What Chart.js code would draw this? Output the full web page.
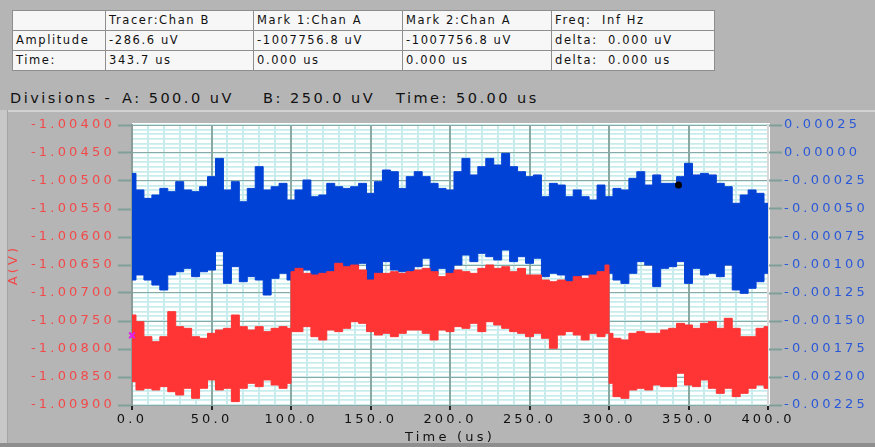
<!DOCTYPE html>
<html><head><meta charset="utf-8">
<script src="https://cdn.jsdelivr.net/npm/chart.js@4.4.1/dist/chart.umd.min.js"></script>
<style>
html,body{margin:0;padding:0}
body{width:875px;height:447px;background:#b5b5b5;position:relative;overflow:hidden;font-family:"DejaVu Sans",sans-serif;}
#info{position:absolute;left:12px;top:10px;border-collapse:collapse;table-layout:fixed;font-size:11.5px;letter-spacing:1.6px;color:#111;}
#info td{border:1px solid #8e8e8e;background:#f7f7f7;height:19px;padding:0 0 0 3px;white-space:pre;overflow:hidden;line-height:19px;}
#divs{position:absolute;left:0;top:90px;height:18px;width:875px;font-size:14.5px;letter-spacing:2.5px;color:#111;white-space:pre;}
#divs span{position:absolute;top:0}
#panel{position:absolute;left:0;top:110px;width:875px;height:337px;}
#tline{position:absolute;left:0;top:110px;width:875px;height:2px;background:#d2d2d2;z-index:3}
#lstrip{position:absolute;left:0;top:110px;width:7px;height:337px;background:#c8c8c8;border-right:1px solid #a4a4a4;z-index:3}
#bline{position:absolute;left:0;top:443px;width:875px;height:4px;background:#8e8e8e;z-index:3}
</style></head>
<body>
<table id="info">
<colgroup><col style="width:93px"><col style="width:148px"><col style="width:149px"><col style="width:149px"><col style="width:163px"></colgroup>
<tr><td></td><td>Tracer:Chan B</td><td>Mark 1:Chan A</td><td>Mark 2:Chan A</td><td>Freq:  Inf Hz</td></tr>
<tr><td>Amplitude</td><td>-286.6 uV</td><td>-1007756.8 uV</td><td>-1007756.8 uV</td><td>delta:  0.000 uV</td></tr>
<tr><td>Time:</td><td>343.7 us</td><td>0.000 us</td><td>0.000 us</td><td>delta:  0.000 us</td></tr>
</table>
<div id="divs"><span style="left:10px">Divisions -</span><span style="left:122px">A: 500.0 uV</span><span style="left:263px">B: 250.0 uV</span><span style="left:396px">Time: 50.00 us</span></div>
<div id="panel"><canvas id="c" width="875" height="337"></canvas></div>
<div id="tline"></div><div id="lstrip"></div><div id="bline"></div>
<script>
// ---- data ----
const blueTimes = [0,5,10,15,20,25,30,35,40,45,50,55,60,65,70,75,80,85,90,95,100,105,110,115,120,125,130,135,140,145,150,155,160,165,170,175,180,185,190,195,200,205,210,215,220,225,230,235,240,245,250,255,260,265,270,275,280,285,290,295,300,305,310,315,320,325,330,335,340,345,350,355,360,365,370,375,380,385,390,395,400];
// Chan B envelope, uV (right axis)
const blueUpperUV = [-182,-330,-405,-375,-316,-345,-256,-330,-345,-301,-211,-48,-330,-256,-435,-316,-122,-330,-301,-271,-420,
  -330,-241,-390,-375,-271,-301,-316,-301,-271,-360,-256,-152,-167,-316,-211,-167,-211,-271,-316,-330,
  -167,-48,-196,-122,-48,-107,-3,-122,-167,-211,-196,-390,-271,-286,-390,-330,-390,-420,-286,-390,
  -316,-330,-226,-167,-286,-196,-271,-271,-211,-92,-196,-182,-196,-271,-301,-449,-375,-330,-360,-449];
const blueLowerUV = [-1134,-1089,-1134,-1179,-1223,-1089,-1060,-1030,-1104,-1060,-1045,-881,-1164,-1015,-1149,-1104,-1134,-1268,-1119,-1074,-1134,
  -1074,-1045,-1104,-1074,-1060,-985,-1060,-1030,-985,-1134,-1074,-970,-1045,-1060,-1074,-1015,-940,-1074,-1030,-1074,
  -1000,-911,-970,-896,-926,-955,-866,-970,-926,-985,-940,-1104,-1074,-1089,-1179,-1134,-1089,-1104,-1060,-1074,
  -1134,-1164,-1074,-970,-1000,-1193,-1030,-1015,-970,-1164,-1030,-1089,-1074,-1104,-1000,-1223,-1253,-1208,-1149,-1074];
const redTimes = [0,5,10,15,20,25,30,35,40,45,50,55,60,65,70,75,80,85,90,95,100,
  100,105,110,115,120,125,130,135,140,145,150,155,160,165,170,175,180,185,190,195,200,205,210,215,220,225,230,235,240,245,250,255,260,265,270,275,280,285,290,295,300,
  300,305,310,315,320,325,330,335,340,345,350,355,360,365,370,375,380,385,390,395,400];
// Chan A envelope, uV (left axis)
const redUpperUV = [-1007393,-1007512,-1007780,-1007869,-1007780,-1007333,-1007601,-1007631,-1007780,-1007809,-1007720,-1007661,-1007631,-1007393,-1007601,-1007661,-1007601,-1007690,-1007631,-1007601,-1007631,
  -1006619,-1006560,-1006649,-1006679,-1006649,-1006619,-1006470,-1006530,-1006500,-1006589,-1006768,-1006649,-1006649,-1006619,-1006649,-1006619,-1006589,-1006560,-1006619,-1006708,-1006649,
  -1006589,-1006619,-1006649,-1006560,-1006500,-1006560,-1006530,-1006619,-1006560,-1006679,-1006679,-1006768,-1006798,-1006768,-1006798,-1006708,-1006738,-1006679,-1006619,-1006500,
  -1007720,-1007809,-1007839,-1007720,-1007690,-1007720,-1007720,-1007661,-1007631,-1007542,-1007571,-1007631,-1007542,-1007512,-1007631,-1007452,-1007631,-1007780,-1007780,-1007631,-1007601];
const redLowerUV = [-1008583,-1008732,-1008702,-1008732,-1008672,-1008762,-1008821,-1008702,-1008881,-1008702,-1008553,-1008732,-1008702,-1008940,-1008702,-1008613,-1008672,-1008553,-1008643,-1008702,-1008613,
  -1007690,-1007690,-1007601,-1007780,-1007839,-1007661,-1007690,-1007631,-1007512,-1007542,-1007690,-1007750,-1007720,-1007780,-1007720,-1007661,-1007661,-1007720,-1007839,-1007661,-1007690,
  -1007601,-1007631,-1007542,-1007690,-1007512,-1007571,-1007631,-1007690,-1007720,-1007780,-1007720,-1007809,-1007988,-1007750,-1007690,-1007750,-1007839,-1007720,-1007780,-1007720,
  -1008613,-1008851,-1008881,-1008732,-1008702,-1008732,-1008643,-1008672,-1008672,-1008434,-1008643,-1008672,-1008553,-1008702,-1008792,-1008702,-1008851,-1008792,-1008702,-1008643,-1008702];
const markTimes = [0];
const markAmpUV = [-1007756.8];
const tracerTimes = [343.7];
const tracerAmpUV = [-286.6];
const xTickValues = [0,50,100,150,200,250,300,350,400];
const leftTickValues = [-1.009,-1.0085,-1.008,-1.0075,-1.007,-1.0065,-1.006,-1.0055,-1.005,-1.0045,-1.004];
const rightTickValues = [-0.00225,-0.002,-0.00175,-0.0015,-0.00125,-0.001,-0.00075,-0.0005,-0.00025,0,0.00025];

const UV = 1e-6;
const pts = (ts, vs) => ts.map((t, i) => ({x: t, y: vs[i] * UV}));
const F = '"DejaVu Sans", sans-serif';
const RED = '#ff3434', BLUE = '#0042d6';
const MAJOR = '#8aa9a2', MINOR = '#c8ecec';
const fmt5 = v => (Math.abs(v) < 1e-12 ? 0 : v).toFixed(5);

const bgPlugin = {
  id: 'bg',
  beforeDraw(chart) {
    const {ctx, chartArea: a} = chart;
    ctx.save();
    ctx.fillStyle = '#ffffff';
    ctx.fillRect(a.left, a.top - 2, a.right - a.left + 2, a.bottom - a.top + 2);
    ctx.restore();
    ctx.letterSpacing = '3.2px';
  }
};

const band = (times, vals, axis, color, fill) => ({
  data: pts(times, vals), yAxisID: axis, fill: fill ? '+1' : false,
  backgroundColor: color, borderColor: color, borderWidth: 1, pointRadius: 0, stepped: 'middle'
});

new Chart(document.getElementById('c'), {
  type: 'line',
  data: {
    datasets: [
      {data: pts(tracerTimes, tracerAmpUV), yAxisID: 'yB', showLine: false, pointRadius: 3.5, pointStyle: 'circle',
       backgroundColor: '#000', borderColor: '#000', borderWidth: 0},
      {data: pts(markTimes, markAmpUV), yAxisID: 'yA', showLine: false, pointRadius: 4, pointStyle: 'crossRot',
       borderColor: '#e020e8', borderWidth: 2, clip: false},
      band(redTimes, redUpperUV, 'yA', RED, true),
      band(redTimes, redLowerUV, 'yA', RED, false),
      band(blueTimes, blueUpperUV, 'yB', BLUE, true),
      band(blueTimes, blueLowerUV, 'yB', BLUE, false)
    ]
  },
  options: {
    responsive: false, animation: false, events: [],
    layout: {padding: {top: 15, left: 0, right: 0, bottom: 0}},
    plugins: {legend: {display: false}, tooltip: {enabled: false}},
    scales: {
      xm: {type: 'linear', position: 'bottom', min: 0, max: 400,
        ticks: {display: false, stepSize: 10}, border: {display: false},
        grid: {color: MINOR, lineWidth: 2, drawTicks: false, z: -2},
        afterFit: s => { s.height = 0; }},
      ym: {type: 'linear', position: 'left', min: 0, max: 60,
        ticks: {display: false, stepSize: 1}, border: {display: false},
        grid: {color: MINOR, lineWidth: 1.7, drawTicks: false, z: -2},
        afterFit: s => { s.width = 0; }},
      x: {type: 'linear', position: 'bottom', min: 0, max: 400,
        afterBuildTicks: s => { s.ticks = xTickValues.map(v => ({value: v})); },
        ticks: {color: '#111', font: {size: 13, family: F}, padding: 2, maxRotation: 0, autoSkip: false,
          callback: v => Number(v).toFixed(1)},
        grid: {color: MAJOR, lineWidth: 2, drawTicks: true, tickLength: 5, tickColor: '#222', tickWidth: 2},
        border: {display: false},
        title: {display: true, text: 'Time (us)', color: '#111', font: {size: 13, family: F}, padding: {top: 0, bottom: 2}},
        afterFit: s => { s.height = 42; }},
      yA: {type: 'linear', position: 'left', min: -1.009, max: -1.004,
        afterBuildTicks: s => { s.ticks = leftTickValues.map(v => ({value: v})); },
        ticks: {color: '#f24a4a', font: {size: 13, family: F}, padding: 3, autoSkip: false, callback: v => fmt5(v)},
        grid: {color: MAJOR, lineWidth: 1, drawTicks: true, tickLength: 14, tickColor: '#7f9f98', tickWidth: 2},
        border: {display: true, color: '#8c9c98', width: 2},
        title: {display: true, text: 'A(V)', color: '#f24a4a', font: {size: 13, family: F}, padding: {top: 6, bottom: 0}},
        afterFit: s => { s.width = 132; }},
      yB: {type: 'linear', position: 'right', min: -0.00225, max: 0.00025,
        afterBuildTicks: s => { s.ticks = rightTickValues.map(v => ({value: v})); },
        ticks: {color: '#2a58d8', font: {size: 13, family: F}, padding: 2, autoSkip: false, callback: v => fmt5(v)},
        grid: {drawOnChartArea: false, drawTicks: true, tickLength: 14, tickColor: '#7f9f98', tickWidth: 2},
        border: {display: true, color: '#d8d8d8', width: 2},
        afterFit: s => { s.width = 107; }}
    }
  },
  plugins: [bgPlugin]
});
</script>
</body></html>
